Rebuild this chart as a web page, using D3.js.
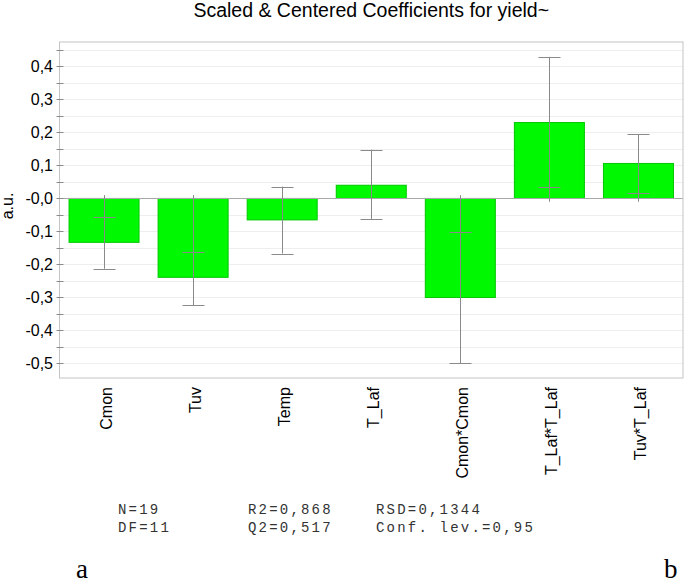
<!DOCTYPE html>
<html>
<head>
<meta charset="utf-8">
<script src="https://cdn.jsdelivr.net/npm/d3@7"></script>
<style>
  body { margin: 0; background: #fff; }
  text { font-family: "Liberation Sans", Arial, sans-serif; fill: #000; }
  .stats text { font-family: "Liberation Mono", "Courier New", monospace; fill: #333; }
  .panel text { font-family: "Liberation Serif", "Times New Roman", serif; }
</style>
</head>
<body>
<script>
// coefficient data
var categories = ["Cmon", "Tuv", "Temp", "T_Laf", "Cmon*Cmon", "T_Laf*T_Laf", "Tuv*T_Laf"];
var coef   = [-0.133, -0.239, -0.065, 0.040, -0.300, 0.230, 0.106];
var ciLow  = [-0.213, -0.324, -0.167, -0.062, -0.500, 0.036, 0.018];
var ciHigh = [-0.056, -0.162, 0.036, 0.148, -0.102, 0.429, 0.194];

// y axis ticks
var majorTicks = [0.4, 0.3, 0.2, 0.1, 0, -0.1, -0.2, -0.3, -0.4, -0.5];
var tickLabels = ["0,4", "0,3", "0,2", "0,1", "-0,0", "-0,1", "-0,2", "-0,3", "-0,4", "-0,5"];
var minorTicks = [0.45, 0.35, 0.25, 0.15, 0.05, -0.05, -0.15, -0.25, -0.35, -0.45];

// model statistics shown under the plot
var statsCol1 = ["N=19", "DF=11"];
var statsCol2 = ["R2=0,868", "Q2=0,517"];
var statsCol3 = ["RSD=0,1344", "Conf. lev.=0,95"];

function drawChart() {
    var W = 685, H = 583;
    // plot frame (note: "top" is taken by window.top, so use other names)
    var pLeft = 59.5, pRight = 683, pTop = 42, pBottom = 378;

    var svg = d3.select("body").append("svg")
        .attr("width", W)
        .attr("height", H);

    var x = d3.scaleBand()
        .domain(categories)
        .range([pLeft, pRight])
        .padding(0);

    var y = d3.scaleLinear()
        .domain([-0.544, 0.474])
        .range([pBottom, pTop]);

    var barW = x.bandwidth() * 0.786;
    var capW = 22;
    var stemOver = 0.01;

    function snap(v) { return Math.round(y(v)) + 0.5; }

    // title
    svg.append("text")
        .attr("x", (pLeft + pRight) / 2)
        .attr("y", 17)
        .attr("text-anchor", "middle")
        .style("font-size", "19.5px")
        .text("Scaled & Centered Coefficients for yield~");

    // grid lines, every 0.05
    svg.append("g")
        .selectAll("line")
        .data(majorTicks.concat(minorTicks))
        .enter().append("line")
        .attr("x1", pLeft).attr("x2", pRight)
        .attr("y1", snap).attr("y2", snap)
        .attr("stroke", "#eeeeee")
        .attr("stroke-width", 1);

    // bars
    svg.append("g")
        .selectAll("rect")
        .data(categories)
        .enter().append("rect")
        .attr("x", function(d) { return x(d) + (x.bandwidth() - barW) / 2; })
        .attr("y", function(d, i) { return y(Math.max(0, coef[i])); })
        .attr("width", barW)
        .attr("height", function(d, i) { return Math.abs(y(coef[i]) - y(0)); })
        .attr("fill", "#00f800")
        .attr("stroke", "#00c800")
        .attr("stroke-width", 1);

    // zero line
    svg.append("line")
        .attr("x1", pLeft).attr("x2", pRight)
        .attr("y1", snap(0)).attr("y2", snap(0))
        .attr("stroke", "#a8a8a8")
        .attr("stroke-width", 1);

    // error bars
    var err = svg.append("g")
        .attr("stroke", "#8a8a8a")
        .attr("stroke-width", 1);

    categories.forEach(function(c, i) {
        var cx = Math.round(x(c) + x.bandwidth() / 2) + 0.5;
        // stem runs a little past the zero line
        var lo = coef[i] > 0 ? Math.min(ciLow[i], -stemOver) : ciLow[i];
        var hi = coef[i] < 0 ? Math.max(ciHigh[i], stemOver) : ciHigh[i];
        err.append("line")
            .attr("x1", cx).attr("x2", cx)
            .attr("y1", y(lo)).attr("y2", y(hi));
        [ciLow[i], ciHigh[i]].forEach(function(v) {
            err.append("line")
                .attr("x1", cx - capW / 2).attr("x2", cx + capW / 2)
                .attr("y1", snap(v)).attr("y2", snap(v));
        });
    });

    // frame
    svg.append("rect")
        .attr("x", pLeft).attr("y", pTop)
        .attr("width", pRight - pLeft).attr("height", pBottom - pTop)
        .attr("fill", "none")
        .attr("stroke", "#c4c4c4")
        .attr("stroke-width", 1);

    // y ticks
    svg.append("g")
        .selectAll("line")
        .data(majorTicks.concat(minorTicks))
        .enter().append("line")
        .attr("x1", pLeft - 3).attr("x2", pLeft + 4)
        .attr("y1", snap).attr("y2", snap)
        .attr("stroke", "#8a8a8a");

    svg.append("g")
        .selectAll("text")
        .data(majorTicks)
        .enter().append("text")
        .attr("x", pLeft - 6.5)
        .attr("y", function(d) { return y(d); })
        .attr("dy", "0.35em")
        .attr("text-anchor", "end")
        .style("font-size", "16px")
        .text(function(d, i) { return tickLabels[i]; });

    // y axis label
    svg.append("text")
        .attr("transform", "translate(12.5,206) rotate(-90)")
        .attr("text-anchor", "middle")
        .style("font-size", "16px")
        .text("a.u.");

    // x labels, rotated
    svg.append("g")
        .selectAll("text")
        .data(categories)
        .enter().append("text")
        .attr("transform", function(d) {
            return "translate(" + (x(d) + x.bandwidth() / 2 + 2) + "," + 387 + ") rotate(-90)";
        })
        .attr("dy", "0.35em")
        .attr("text-anchor", "end")
        .style("font-size", "16px")
        .text(function(d) { return d; });

    // stats block
    var stats = svg.append("g").attr("class", "stats");
    [[118, statsCol1], [248, statsCol2], [376, statsCol3]].forEach(function(col) {
        col[1].forEach(function(s, j) {
            stats.append("text")
                .attr("x", col[0])
                .attr("y", 513.5 + j * 18.5)
                .style("font-size", "14px")
                .style("letter-spacing", "2.2px")
                .text(s);
        });
    });

    // panel letters
    var panel = svg.append("g").attr("class", "panel");
    panel.append("text").attr("x", 76).attr("y", 578).style("font-size", "27px").text("a");
    panel.append("text").attr("x", 664).attr("y", 578).style("font-size", "27px").text("b");
}

drawChart();
</script>
</body>
</html>
